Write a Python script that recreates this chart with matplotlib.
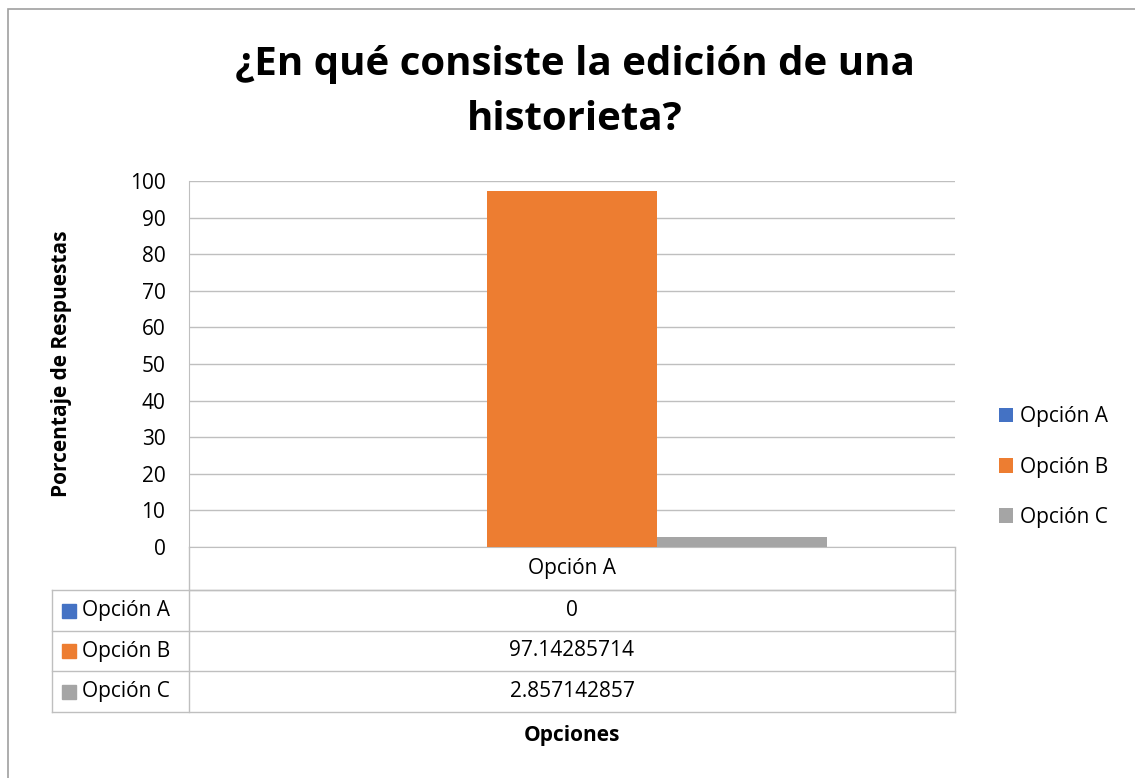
import matplotlib
matplotlib.use("Agg")
import matplotlib.pyplot as plt
from matplotlib.patches import Rectangle

series = ["Opción A", "Opción B", "Opción C"]
values = [0, 97.14285714, 2.857142857]
value_labels = ["0", "97.14285714", "2.857142857"]
category = "Opción A"
colors = ["#4472C4", "#ED7D31", "#A5A5A5"]
yticks = list(range(0, 101, 10))

plt.rcParams["font.family"] = ["Open Sans", "DejaVu Sans"]

W, H = 1135, 778
fig = plt.figure(figsize=(W / 100, H / 100), dpi=100)

# marco exterior
fig.add_artist(Rectangle((8 / W, -0.1), 1.2, 1 - 9 / H + 0.1, transform=fig.transFigure,
                         fill=False, ec="#A0A0A0", lw=1.2))

ax = fig.add_axes([189 / W, 1 - 547 / H, (955 - 189) / W, (547 - 181) / H])

bw = 0.222
xs = [-bw, 0, bw]
for x, v, c, s in zip(xs, values, colors, series):
    ax.bar(x, v, width=bw, color=c, label=s, zorder=3)

ax.set_xlim(-0.5, 0.5)
ax.set_ylim(0, 100)
ax.set_yticks(yticks)
ax.tick_params(axis="y", length=0, labelsize=15, pad=17)
ax.set_xticks([])
ax.grid(axis="y", color="#BFBFBF", lw=1)
for side in ["top", "right"]:
    ax.spines[side].set_visible(False)
ax.spines["left"].set_color("#BFBFBF")
ax.spines["bottom"].set_color("#BFBFBF")

fig.text(62 / W, 1 - 364 / H, "Porcentaje de Respuestas", rotation=90, ha="center",
         va="center", fontsize=15, fontweight="bold")
fig.text(575 / W, 1 - 92 / H, "¿En qué consiste la edición de una\nhistorieta?", fontsize=29,
         fontweight="bold", ha="center", va="center", linespacing=1.55)

# tabla de datos
ah = 547 - 181
aw = 955 - 189
rows = [547, 590, 631, 671, 712]
ry = [(547 - r) / ah for r in rows]
xl = (52 - 189) / aw
tr = ax.transAxes
lc = "#BFBFBF"
ax.plot([0, 0], [ry[0], ry[-1]], color=lc, lw=1, transform=tr, clip_on=False)
ax.plot([1, 1], [ry[0], ry[-1]], color=lc, lw=1, transform=tr, clip_on=False)
ax.plot([xl, xl], [ry[1], ry[-1]], color=lc, lw=1, transform=tr, clip_on=False)
ax.plot([0, 1], [ry[1], ry[1]], color=lc, lw=1, transform=tr, clip_on=False)
for y in ry[1:]:
    ax.plot([xl, 1], [y, y], color=lc, lw=1, transform=tr, clip_on=False)
ax.text(0.5, (ry[0] + ry[1]) / 2, category, transform=tr, ha="center", va="center", fontsize=15)
for i, (s, c, t) in enumerate(zip(series, colors, value_labels)):
    yc = (ry[i + 1] + ry[i + 2]) / 2
    ax.add_patch(Rectangle((xl + 10 / aw, yc - 7 / ah), 14 / aw, 14 / ah, transform=tr,
                           color=c, clip_on=False))
    ax.text(xl + 30 / aw, yc, s, transform=tr, ha="left", va="center", fontsize=15)
    ax.text(0.5, yc, t, transform=tr, ha="center", va="center", fontsize=15)

fig.text(572 / W, 1 - 736 / H, "Opciones", ha="center", va="center", fontsize=15,
         fontweight="bold")

leg = ax.legend(loc="center left", bbox_to_anchor=(1.046, (547 - 467) / ah), frameon=False,
                fontsize=15, handlelength=0.7, handleheight=0.7, handletextpad=0.35,
                labelspacing=1.4, borderaxespad=0)

fig.savefig("out.png", dpi=100)
